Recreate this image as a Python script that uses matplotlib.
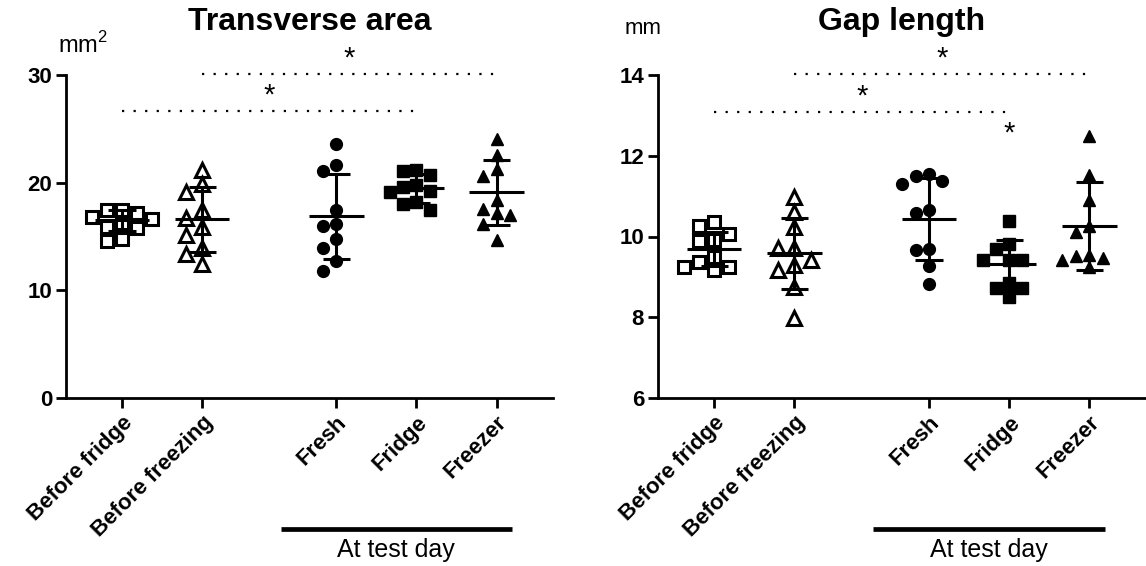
import numpy as np
import matplotlib
matplotlib.use("Agg")
import matplotlib.pyplot as plt
from matplotlib import transforms

plt.rcParams["font.family"] = ["Liberation Sans", "DejaVu Sans"]
plt.rcParams["mathtext.fontset"] = "custom"
plt.rcParams["mathtext.rm"] = "Liberation Sans"

groups = ["Before fridge", "Before freezing", "Fresh", "Fridge", "Freezer"]
group_pos = [0, 1, 2.675, 3.675, 4.675]

# transverse area, mm^2
area_before_fridge = [16.8, 15.8, 17.5, 16.6, 17.2, 15.9, 17.5, 16.3, 14.6, 14.8]
area_before_freezing = [21.2, 19.9, 19.1, 17.5, 16.7, 15.9, 15.1, 13.9, 13.4, 12.4]
area_fresh = [23.6, 21.6, 21.1, 17.5, 16.0, 16.2, 14.8, 13.9, 12.7, 11.8]
area_fridge = [21.2, 21.1, 20.7, 19.8, 19.1, 19.2, 19.6, 18.0, 18.2, 17.5]
area_freezer = [24.1, 21.3, 22.6, 20.6, 18.4, 17.2, 17.6, 17.0, 16.2, 14.7]
area_mean = [16.5, 16.6, 16.9, 19.5, 19.1]
area_sd = [1.0, 3.0, 3.95, 1.35, 3.0]

# gap length, mm
gap_before_fridge = [10.26, 10.35, 10.06, 9.89, 9.91, 9.50, 9.38, 9.17, 9.24, 9.25]
gap_before_freezing = [10.98, 10.61, 10.24, 9.71, 9.71, 9.42, 9.29, 9.17, 8.76, 7.97]
gap_fresh = [11.38, 11.50, 11.55, 11.30, 10.59, 10.65, 9.67, 9.69, 9.28, 8.82]
gap_fridge = [10.39, 9.81, 9.68, 9.43, 9.42, 9.43, 8.85, 8.72, 8.72, 8.49]
gap_freezer = [12.5, 11.52, 10.90, 10.26, 10.12, 9.54, 9.52, 9.46, 9.42, 9.25]
gap_mean = [9.68, 9.58, 10.43, 9.31, 10.26]
gap_sd = [0.42, 0.88, 1.01, 0.60, 1.08]

# (group a, group b, level) for the dotted significance bars
area_sig = [(1, 4, 30.1), (0, 3, 26.7)]
gap_sig = [(1, 4, 14.02), (0, 3, 13.08)]
gap_single_star = [(3, 12.55)]

styles = [
    dict(marker="s", fc="white", size=8.5),
    dict(marker="^", fc="white", size=9.5),
    dict(marker="o", fc="black", size=8.5),
    dict(marker="s", fc="black", size=8.5),
    dict(marker="^", fc="black", size=9.0),
]


def swarm_offsets(ax, x, vals, d):
    """column-ish scatter: points within ~one marker height can't share a column"""
    tr = ax.transData
    ypx = np.array([tr.transform((x, v))[1] for v in vals])
    ppu = tr.transform((x + 1, 0))[0] - tr.transform((x, 0))[0]
    dy_tol = 0.8 * d
    placed = []
    offs = np.zeros(len(vals))
    for i in np.argsort(-ypx, kind="stable"):
        near = [px for px, py in placed if abs(ypx[i] - py) < dy_tol]
        cands = [0.0] + [px + s * d for px in near for s in (-1, 1)]
        best = 0.0
        for c in sorted(cands, key=lambda c: (abs(c), c)):
            if all(abs(c - px) >= d - 1e-6 for px in near):
                best = c
                break
        placed.append((best, ypx[i]))
        offs[i] = best / ppu
    return offs


def draw_panel(ax, data, means, sds, ylim, yticks, title, sig, stars=()):
    ax.set_xlim(-0.7, 5.38)
    ax.set_ylim(*ylim)
    for sp in ["top", "right"]:
        ax.spines[sp].set_visible(False)
    for sp in ["left", "bottom"]:
        ax.spines[sp].set_linewidth(2.0)
    ax.set_yticks(yticks)
    ax.set_xticks(group_pos)
    ax.set_xticklabels(groups, rotation=45, ha="right", rotation_mode="anchor",
                       fontsize=16, fontweight="bold")
    for lab in ax.get_yticklabels():
        lab.set_fontweight("bold")
        lab.set_fontsize(16)
    ax.tick_params(axis="both", width=2.0, length=7, pad=3)

    for x, vals, st, m, s in zip(group_pos, data, styles, means, sds):
        mew = 2.2 if st["fc"] == "white" else 1.0
        d_px = (st["size"] + mew) * 1.39
        offs = swarm_offsets(ax, x, vals, d_px)
        ax.plot(np.array(offs) + x, vals, linestyle="none", marker=st["marker"],
                markersize=st["size"], mfc=st["fc"], mec="black",
                mew=mew, zorder=3, clip_on=False)
        ax.hlines(m, x - 0.34, x + 0.34, color="black", lw=2.2, zorder=4)
        ax.vlines(x, m - s, m + s, color="black", lw=2.2, zorder=4)
        ax.hlines([m - s, m + s], x - 0.17, x + 0.17, color="black", lw=2.2, zorder=4)

    for a, b, level in sig:
        xa, xb = group_pos[a], group_pos[b]
        ax.plot([xa, xb], [level, level], color="black", lw=1.6,
                linestyle=(0, (1, 4.2)), clip_on=False)
        ax.annotate("*", xy=((xa + xb) / 2, level), xytext=(0, 1),
                    textcoords="offset points", ha="center", va="bottom",
                    fontsize=21, annotation_clip=False)
    for g, level in stars:
        ax.text(group_pos[g], level, "*", ha="center", va="center", fontsize=21)

    ax.text(0.5, 1.165, title, transform=ax.transAxes, ha="center", va="center",
            fontsize=23, fontweight="bold")

    trans = transforms.blended_transform_factory(ax.transData, ax.transAxes)
    bar_y = -0.405
    ax.plot([1.98, 4.87], [bar_y, bar_y], color="black", lw=3.4,
            transform=trans, clip_on=False, solid_capstyle="butt")
    ax.text(3.42, bar_y - 0.065, "At test day", transform=trans,
            ha="center", va="center", fontsize=18)


fig = plt.figure(figsize=(11.46, 5.66), dpi=100)
W, H = 1146, 566
ax1 = fig.add_axes([66 / W, (H - 398) / H, (553 - 66) / W, 323 / H])
ax2 = fig.add_axes([658 / W, (H - 398) / H, (1146 - 658) / W, 323 / H])

draw_panel(ax1,
           [area_before_fridge, area_before_freezing, area_fresh, area_fridge, area_freezer],
           area_mean, area_sd, (0, 30), [0, 10, 20, 30], "Transverse area", area_sig)
draw_panel(ax2,
           [gap_before_fridge, gap_before_freezing, gap_fresh, gap_fridge, gap_freezer],
           gap_mean, gap_sd, (6, 14), [6, 8, 10, 12, 14], "Gap length", gap_sig,
           gap_single_star)

fig.text(83 / W, 1 - 45 / H, r"mm$^{2}$", ha="center", va="center", fontsize=17)
fig.text(643 / W, 1 - 29 / H, "mm", ha="center", va="center", fontsize=16)

fig.savefig("out.png", dpi=100)
